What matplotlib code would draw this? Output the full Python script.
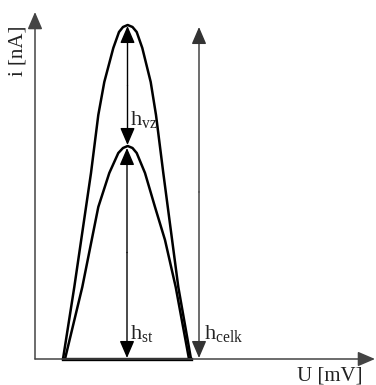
import matplotlib
matplotlib.use("Agg")
import matplotlib.pyplot as plt

plt.rcParams['font.family'] = ['Liberation Serif', 'DejaVu Serif']
plt.rcParams['mathtext.fontset'] = 'custom'
plt.rcParams['mathtext.rm'] = 'Liberation Serif'
plt.rcParams['mathtext.it'] = 'Liberation Serif:italic'

# Schematic peaks (U in arbitrary mV units, i in arbitrary nA units)
outer_U = [28, 39.3, 56, 63.3, 69.3, 78.3, 84, 88, 92.7, 97.5, 101.7, 107.3, 115.7, 121, 128.3, 143.3, 156]
outer_i = [0, 72, 186, 244, 277, 311, 327, 332, 334, 332, 327, 311, 277, 244, 186, 72, 0]
inner_U = [30, 47.3, 56.7, 63.3, 74.3, 83.3, 88, 92.7, 97.5, 101.7, 110, 120, 130, 140.7, 154]
inner_i = [0, 72, 119, 152, 186, 206, 211, 213, 211, 206, 186, 152, 119, 72, 0]

peak_U = 92.5
h_total = 334       # h_celk
h_st = 213          # h_st (inner peak)
h_celk_U = 164
axis_U_max = 340
axis_i_max = 347

fig = plt.figure(figsize=(3.76, 3.85), dpi=100)
ax = fig.add_axes([0, 0, 1, 1])
ax.set_xlim(-35, 341)
ax.set_ylim(-26, 359)
ax.axis('off')

def arrow(x0, y0, x1, y1, color='black', lw=1.0, style='-|>', ms=15):
    ax.annotate('', xy=(x1, y1), xytext=(x0, y0),
                arrowprops=dict(arrowstyle=style + ',head_length=0.7,head_width=0.3',
                                color=color, lw=lw, shrinkA=0, shrinkB=0,
                                mutation_scale=ms))

# axes
arrow(0, 0, axis_U_max, 0, color='#444444', lw=1.1)
arrow(0, 0, 0, axis_i_max, color='#444444', lw=1.1)

# curves
ax.plot(outer_U, outer_i, color='black', lw=1.8, solid_joinstyle='round')
ax.plot(inner_U, inner_i, color='black', lw=1.8, solid_joinstyle='round')
ax.plot([outer_U[0], outer_U[-1]], [0, 0], color='black', lw=2.4)

# h_vz arrows (double-headed)
arrow(peak_U, (h_total + h_st) / 2, peak_U, h_total - 1)
arrow(peak_U, (h_total + h_st) / 2, peak_U, h_st + 1)
# h_st arrows
arrow(peak_U - 0.5, h_st / 2, peak_U - 0.5, h_st - 2)
arrow(peak_U - 0.5, h_st / 2, peak_U - 0.5, 1)
# h_celk arrows
arrow(h_celk_U, h_total / 2, h_celk_U, h_total - 2, color='#333333', lw=1.0)
arrow(h_celk_U, h_total / 2, h_celk_U, 1, color='#333333', lw=1.0)

fs = 16
ax.text(peak_U + 2.5, 234, r'$\mathrm{h}_{\mathrm{vz}}$', fontsize=fs, color='#222222', va='baseline')
ax.text(peak_U + 2.5, 20, r'$\mathrm{h}_{\mathrm{st}}$', fontsize=fs, color='#222222', va='baseline')
ax.text(h_celk_U + 5, 20, r'$\mathrm{h}_{\mathrm{celk}}$', fontsize=fs, color='#222222', va='baseline')

ax.text(295, -22, 'U [mV]', fontsize=15, color='#222222', ha='center', va='baseline')
ax.text(-17, 308, 'i [nA]', fontsize=15, color='#222222', ha='center', va='center', rotation=90)

fig.savefig('out.png', dpi=100)
